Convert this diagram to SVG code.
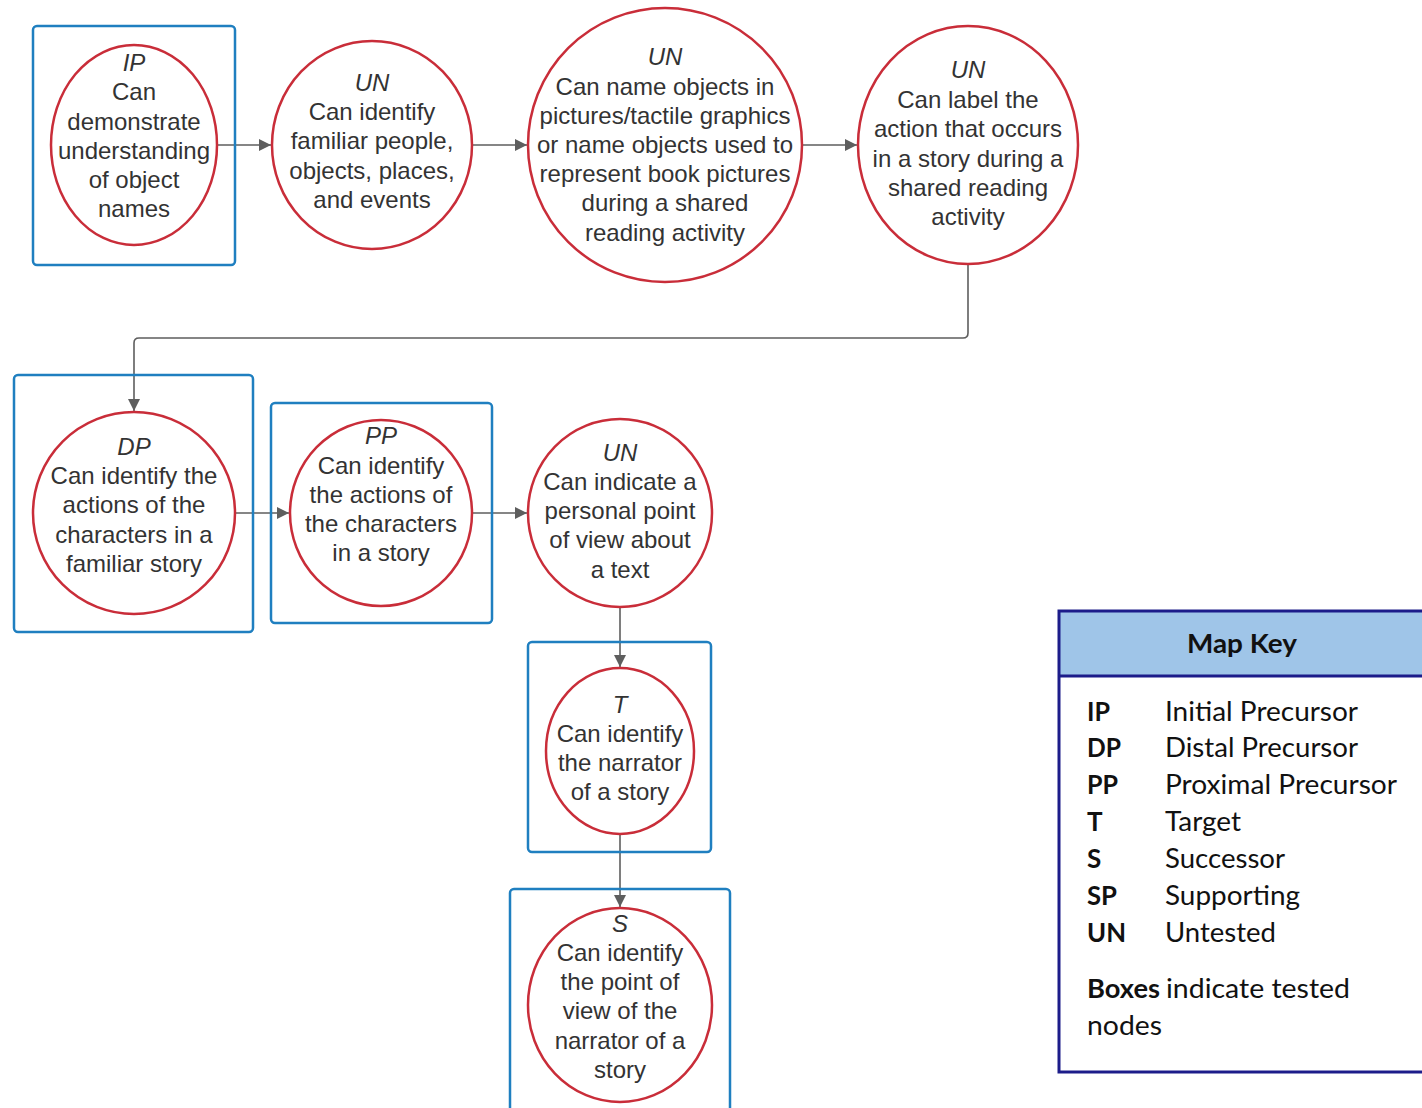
<svg xmlns="http://www.w3.org/2000/svg" width="1422" height="1108" viewBox="0 0 1422 1108">
<style>
.box{fill:none;stroke:#1f7fc0;stroke-width:2.5}
.ell{fill:#fff;stroke:#c92d39;stroke-width:2.5}
.t{font-family:"Liberation Sans",Arial,sans-serif;font-size:24px;fill:#333;text-anchor:middle}
.i{font-style:italic}
.con{fill:none;stroke:#5e5e5e;stroke-width:1.6}
.k{font-family:Lato,"Open Sans",sans-serif;font-size:26px;fill:#111}
.kb{font-weight:bold}
</style>
<defs>
<marker id="ah" viewBox="0 0 12 12" refX="12" refY="6" markerWidth="12" markerHeight="12" markerUnits="userSpaceOnUse" orient="auto">
<path d="M0,0 L12,6 L0,12 Z" fill="#5e5e5e"/>
</marker>
</defs>
<rect width="1422" height="1108" fill="#fff"/>
<g id="connectors">
<path class="con" d="M217,145 H271" marker-end="url(#ah)"/>
<path class="con" d="M473,145 H527" marker-end="url(#ah)"/>
<path class="con" d="M803,145 H857" marker-end="url(#ah)"/>
<path class="con" d="M968,265 V333 Q968,338 963,338 H139 Q134,338 134,343 V411" marker-end="url(#ah)"/>
<path class="con" d="M235,513 H289" marker-end="url(#ah)"/>
<path class="con" d="M472,513 H527" marker-end="url(#ah)"/>
<path class="con" d="M620,607 V667" marker-end="url(#ah)"/>
<path class="con" d="M620,834 V907" marker-end="url(#ah)"/>
</g>
<g id="n1">
<rect class="box" x="33" y="26" width="202" height="239" rx="4"/>
<ellipse class="ell" cx="134" cy="145" rx="83" ry="100"/>
<text class="t i" x="134" y="71">IP</text>
<text class="t" x="134" y="100">Can</text>
<text class="t" x="134" y="130">demonstrate</text>
<text class="t" x="134" y="159">understanding</text>
<text class="t" x="134" y="188">of object</text>
<text class="t" x="134" y="217">names</text>
</g>
<g id="n2">
<ellipse class="ell" cx="372" cy="145" rx="100" ry="104"/>
<text class="t i" x="372" y="91">UN</text>
<text class="t" x="372" y="120">Can identify</text>
<text class="t" x="372" y="149">familiar people,</text>
<text class="t" x="372" y="179">objects, places,</text>
<text class="t" x="372" y="208">and events</text>
</g>
<g id="n3">
<ellipse class="ell" cx="665" cy="145" rx="137" ry="137"/>
<text class="t i" x="665" y="65">UN</text>
<text class="t" x="665" y="95">Can name objects in</text>
<text class="t" x="665" y="124">pictures/tactile graphics</text>
<text class="t" x="665" y="153">or name objects used to</text>
<text class="t" x="665" y="182">represent book pictures</text>
<text class="t" x="665" y="211">during a shared</text>
<text class="t" x="665" y="241">reading activity</text>
</g>
<g id="n4">
<ellipse class="ell" cx="968" cy="145" rx="110" ry="119"/>
<text class="t i" x="968" y="78">UN</text>
<text class="t" x="968" y="108">Can label the</text>
<text class="t" x="968" y="137">action that occurs</text>
<text class="t" x="968" y="167">in a story during a</text>
<text class="t" x="968" y="196">shared reading</text>
<text class="t" x="968" y="225">activity</text>
</g>
<g id="n5">
<rect class="box" x="14" y="375" width="239" height="257" rx="4"/>
<ellipse class="ell" cx="134" cy="513" rx="101" ry="101"/>
<text class="t i" x="134" y="455">DP</text>
<text class="t" x="134" y="484">Can identify the</text>
<text class="t" x="134" y="513">actions of the</text>
<text class="t" x="134" y="543">characters in a</text>
<text class="t" x="134" y="572">familiar story</text>
</g>
<g id="n6">
<rect class="box" x="271" y="403" width="221" height="220" rx="4"/>
<ellipse class="ell" cx="381" cy="513" rx="91" ry="93"/>
<text class="t i" x="381" y="444">PP</text>
<text class="t" x="381" y="474">Can identify</text>
<text class="t" x="381" y="503">the actions of</text>
<text class="t" x="381" y="532">the characters</text>
<text class="t" x="381" y="561">in a story</text>
</g>
<g id="n7">
<ellipse class="ell" cx="620" cy="513" rx="92" ry="94"/>
<text class="t i" x="620" y="461">UN</text>
<text class="t" x="620" y="490">Can indicate a</text>
<text class="t" x="620" y="519">personal point</text>
<text class="t" x="620" y="548">of view about</text>
<text class="t" x="620" y="578">a text</text>
</g>
<g id="n8">
<rect class="box" x="528" y="642" width="183" height="210" rx="4"/>
<ellipse class="ell" cx="620" cy="751" rx="74" ry="83"/>
<text class="t i" x="620" y="713">T</text>
<text class="t" x="620" y="742">Can identify</text>
<text class="t" x="620" y="771">the narrator</text>
<text class="t" x="620" y="800">of a story</text>
</g>
<g id="n9">
<rect class="box" x="510" y="889" width="220" height="225" rx="4"/>
<ellipse class="ell" cx="620" cy="1005" rx="92" ry="97"/>
<text class="t i" x="620" y="932">S</text>
<text class="t" x="620" y="961">Can identify</text>
<text class="t" x="620" y="990">the point of</text>
<text class="t" x="620" y="1019">view of the</text>
<text class="t" x="620" y="1049">narrator of a</text>
<text class="t" x="620" y="1078">story</text>
</g>
<g id="mapkey">
<rect x="1059" y="611" width="380" height="65" fill="#9fc5e8"/>
<rect x="1059" y="611" width="380" height="461" fill="none" stroke="#1c1c8a" stroke-width="3"/>
<line x1="1059" y1="676" x2="1430" y2="676" stroke="#1c1c8a" stroke-width="3"/>
<text class="k kb" x="1187" y="653" textLength="110" lengthAdjust="spacingAndGlyphs">Map Key</text>
<text class="k kb" x="1087" y="721" textLength="23" lengthAdjust="spacingAndGlyphs">IP</text>
<text class="k" x="1165" y="721" textLength="193" lengthAdjust="spacingAndGlyphs">Initial Precursor</text>
<text class="k kb" x="1087" y="757" textLength="34" lengthAdjust="spacingAndGlyphs">DP</text>
<text class="k" x="1165" y="757" textLength="193" lengthAdjust="spacingAndGlyphs">Distal Precursor</text>
<text class="k kb" x="1087" y="794" textLength="31" lengthAdjust="spacingAndGlyphs">PP</text>
<text class="k" x="1165" y="794" textLength="232" lengthAdjust="spacingAndGlyphs">Proximal Precursor</text>
<text class="k kb" x="1087" y="831">T</text>
<text class="k" x="1165" y="831" textLength="76" lengthAdjust="spacingAndGlyphs">Target</text>
<text class="k kb" x="1087" y="868">S</text>
<text class="k" x="1165" y="868" textLength="120" lengthAdjust="spacingAndGlyphs">Successor</text>
<text class="k kb" x="1087" y="905" textLength="30" lengthAdjust="spacingAndGlyphs">SP</text>
<text class="k" x="1165" y="905" textLength="135" lengthAdjust="spacingAndGlyphs">Supporting</text>
<text class="k kb" x="1087" y="942" textLength="39" lengthAdjust="spacingAndGlyphs">UN</text>
<text class="k" x="1165" y="942" textLength="111" lengthAdjust="spacingAndGlyphs">Untested</text>
<text class="k kb" x="1087" y="998" textLength="73" lengthAdjust="spacingAndGlyphs">Boxes</text>
<text class="k" x="1166" y="998" textLength="184" lengthAdjust="spacingAndGlyphs">indicate tested</text>
<text class="k" x="1087" y="1035" textLength="75" lengthAdjust="spacingAndGlyphs">nodes</text>
</g>
</svg>
